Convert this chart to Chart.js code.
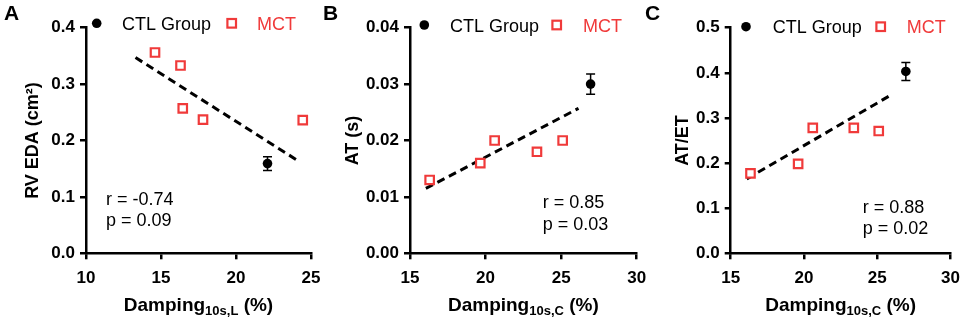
<!DOCTYPE html>
<html>
<head>
<meta charset="utf-8">
<script src="https://cdn.jsdelivr.net/npm/chart.js@4.4.1/dist/chart.umd.min.js"></script>
<style>
  html, body { margin: 0; padding: 0; background: #fff; }
  #wrap { position: relative; width: 969px; height: 318px; }
  canvas { position: absolute; left: 0; top: 0; }
</style>
</head>
<body>
<div id="wrap">
  <canvas id="chartA" width="969" height="318"></canvas>
  <canvas id="chartB" width="969" height="318"></canvas>
  <canvas id="chartC" width="969" height="318"></canvas>
</div>
<script>
// shared
const legendLabels = ['CTL Group', 'MCT'];

// panel A - RV EDA vs damping (L)
const mctDampA = [14.6, 16.3, 16.45, 17.8, 24.45];
const mctValA = [0.356, 0.333, 0.257, 0.237, 0.236];
const ctlDampA = [22.1];
const ctlValA = [0.159];
const ctlErrA = [0.012];
const trendDampA = [13.3, 24.2];
const trendValA = [0.347, 0.163];
const xTicksA = [10, 15, 20, 25];
const yTicksA = [0, 0.1, 0.2, 0.3, 0.4];
const yTickLabelsA = ['0.0', '0.1', '0.2', '0.3', '0.4'];
const statsA = ['r = -0.74', 'p = 0.09'];

// panel B - AT vs damping (C)
const mctDampB = [16.3, 19.65, 20.6, 23.4, 25.1];
const mctValB = [0.013, 0.016, 0.020, 0.018, 0.020];
const ctlDampB = [26.95];
const ctlValB = [0.030];
const ctlErrB = [0.0018];
const trendDampB = [16.05, 26.15];
const trendValB = [0.0115, 0.0257];
const xTicksB = [15, 20, 25, 30];
const yTicksB = [0, 0.01, 0.02, 0.03, 0.04];
const yTickLabelsB = ['0.00', '0.01', '0.02', '0.03', '0.04'];
const statsB = ['r = 0.85', 'p = 0.03'];

// panel C - AT/ET vs damping (C)
const mctDampC = [16.35, 19.6, 20.6, 23.4, 25.1];
const mctValC = [0.177, 0.198, 0.278, 0.278, 0.271];
const ctlDampC = [26.95];
const ctlValC = [0.403];
const ctlErrC = [0.02];
const trendDampC = [16.1, 26.05];
const trendValC = [0.165, 0.353];
const xTicksC = [15, 20, 25, 30];
const yTicksC = [0, 0.1, 0.2, 0.3, 0.4, 0.5];
const yTickLabelsC = ['0.0', '0.1', '0.2', '0.3', '0.4', '0.5'];
const statsC = ['r = 0.88', 'p = 0.02'];

const FONT = "'Liberation Sans', Arial, Helvetica, sans-serif";
const RED = 'rgb(240, 58, 58)';
const Y_AXIS_W = 60;
const X_AXIS_H = 40;

const zip = (xs, ys) => xs.map((x, i) => ({ x: x, y: ys[i] }));

const decor = {
    id: 'decor',
    afterDatasetsDraw(chart, args, o) {
        const ctx = chart.ctx;
        const xs = chart.scales.x, ys = chart.scales.y;
        // error bars on the CTL point
        ctx.save();
        ctx.strokeStyle = '#000';
        ctx.lineWidth = 1.5;
        o.ctlX.forEach((v, i) => {
            const px = xs.getPixelForValue(v);
            const top = ys.getPixelForValue(o.ctlY[i] + o.ctlErr[i]);
            const bot = ys.getPixelForValue(o.ctlY[i] - o.ctlErr[i]);
            ctx.beginPath();
            ctx.moveTo(px, top); ctx.lineTo(px, bot);
            ctx.moveTo(px - 4.5, top); ctx.lineTo(px + 4.5, top);
            ctx.moveTo(px - 4.5, bot); ctx.lineTo(px + 4.5, bot);
            ctx.stroke();
        });
        ctx.restore();
    },
    afterDraw(chart, args, o) {
        const ctx = chart.ctx;
        const area = chart.chartArea;
        ctx.save();
        ctx.fillStyle = '#000';
        ctx.textBaseline = 'alphabetic';

        // panel letter
        ctx.font = 'bold 21px ' + FONT;
        ctx.textAlign = 'left';
        ctx.fillText(o.letter, o.letterX, 20);

        // y title
        ctx.save();
        ctx.translate(o.yTitleX, (area.top + area.bottom) / 2);
        ctx.rotate(-Math.PI / 2);
        ctx.font = 'bold 18px ' + FONT;
        ctx.textAlign = 'center';
        ctx.textBaseline = 'middle';
        ctx.fillText(o.yTitle, 0, 0);
        ctx.restore();

        // x title with subscript
        const main = 'bold 19px ' + FONT, sub = 'bold 13px ' + FONT;
        ctx.font = main;
        const w1 = ctx.measureText('Damping').width;
        const w3 = ctx.measureText(' (%)').width;
        ctx.font = sub;
        const w2 = ctx.measureText(o.xSub).width;
        let x0 = (area.left + area.right) / 2 - (w1 + w2 + w3) / 2;
        ctx.textAlign = 'left';
        ctx.font = main;
        ctx.fillText('Damping', x0, 310.5);
        ctx.font = sub;
        ctx.fillText(o.xSub, x0 + w1, 315);
        ctx.font = main;
        ctx.fillText(' (%)', x0 + w1 + w2, 310.5);

        // legend
        const lg = o.legend;
        ctx.beginPath();
        ctx.arc(lg.dotX, lg.y, 4.8, 0, Math.PI * 2);
        ctx.fill();
        ctx.font = '18px ' + FONT;
        ctx.fillText(legendLabels[0], lg.textX, lg.y + 6.5);
        ctx.strokeStyle = RED;
        ctx.lineWidth = 2.2;
        ctx.fillStyle = '#fff';
        ctx.fillRect(lg.sqX - 4.3, lg.y - 4.3, 8.6, 8.6);
        ctx.strokeRect(lg.sqX - 4.3, lg.y - 4.3, 8.6, 8.6);
        ctx.fillStyle = RED;
        ctx.fillText(legendLabels[1], lg.mctX, lg.y + 6.5);

        // stats
        ctx.fillStyle = '#000';
        ctx.font = '18px ' + FONT;
        o.stats.forEach((s, i) => ctx.fillText(s, o.statsX, o.statsY[i]));
        ctx.restore();
    }
};

const createPanel = (id, p) => {
    const ctx = document.getElementById(id).getContext('2d');
    new Chart(ctx, {
        type: 'scatter',
        data: {
            datasets: [{
                type: 'line',
                data: zip(p.trendX, p.trendY),
                borderColor: '#000',
                borderWidth: 3,
                borderDash: [8, 5],
                pointRadius: 0,
                fill: false,
                order: 3
            }, {
                label: legendLabels[1],
                data: zip(p.mctX, p.mctY),
                pointStyle: 'rect',
                pointRadius: 6,
                pointBorderWidth: 2.2,
                pointBorderColor: RED,
                pointBackgroundColor: '#fff',
                order: 2
            }, {
                label: legendLabels[0],
                data: zip(p.ctlX, p.ctlY),
                pointStyle: 'circle',
                pointRadius: 4.8,
                pointBorderWidth: 0,
                pointBackgroundColor: '#000',
                order: 1
            }]
        },
        options: {
            responsive: false,
            animation: false,
            devicePixelRatio: 1,
            events: [],
            layout: {
                padding: {
                    left: p.axisX - Y_AXIS_W,
                    right: 969 - p.rightX,
                    top: 27.7,
                    bottom: 318 - 253.3 - X_AXIS_H
                }
            },
            scales: {
                x: {
                    type: 'linear',
                    min: p.xTicks[0],
                    max: p.xTicks[p.xTicks.length - 1],
                    afterBuildTicks: s => { s.ticks = p.xTicks.map(v => ({ value: v })); },
                    afterFit: s => { s.height = X_AXIS_H; },
                    border: { color: '#000', width: 2.5 },
                    grid: { drawOnChartArea: false, drawTicks: true, tickLength: 6, color: '#000', lineWidth: 2.5 },
                    ticks: { color: '#000', padding: 9, font: { family: FONT, size: 17, weight: 'bold' } }
                },
                y: {
                    min: p.yTicks[0],
                    max: p.yTicks[p.yTicks.length - 1],
                    afterBuildTicks: s => { s.ticks = p.yTicks.map(v => ({ value: v })); },
                    afterFit: s => { s.width = Y_AXIS_W; },
                    border: { color: '#000', width: 2.5 },
                    grid: { drawOnChartArea: false, drawTicks: true, tickLength: 6, color: '#000', lineWidth: 2.5 },
                    ticks: {
                        color: '#000', padding: 5,
                        font: { family: FONT, size: 17, weight: 'bold' },
                        callback: (v, i) => p.yLabels[i]
                    }
                }
            },
            plugins: {
                legend: { display: false },
                tooltip: { enabled: false },
                decor: {
                    letter: p.letter, letterX: p.letterX,
                    yTitle: p.yTitle, yTitleX: p.yTitleX, xSub: p.xSub,
                    ctlX: p.ctlX, ctlY: p.ctlY, ctlErr: p.ctlErr,
                    legend: p.legend,
                    stats: p.stats, statsX: p.statsX, statsY: p.statsY
                }
            }
        },
        plugins: [decor]
    });
};

window.onload = () => {
    createPanel('chartA', {
        mctX: mctDampA, mctY: mctValA, ctlX: ctlDampA, ctlY: ctlValA, ctlErr: ctlErrA,
        trendX: trendDampA, trendY: trendValA,
        xTicks: xTicksA, yTicks: yTicksA, yLabels: yTickLabelsA, stats: statsA,
        axisX: 86, rightX: 311, letter: 'A', letterX: 4,
        yTitle: 'RV EDA (cm²)', yTitleX: 33.5, xSub: '10s,L',
        legend: { dotX: 96.7, textX: 122, sqX: 231.7, mctX: 257, y: 23.3 },
        statsX: 106, statsY: [205, 225.5]
    });
    createPanel('chartB', {
        mctX: mctDampB, mctY: mctValB, ctlX: ctlDampB, ctlY: ctlValB, ctlErr: ctlErrB,
        trendX: trendDampB, trendY: trendValB,
        xTicks: xTicksB, yTicks: yTicksB, yLabels: yTickLabelsB, stats: statsB,
        axisX: 410, rightX: 636.7, letter: 'B', letterX: 323,
        yTitle: 'AT (s)', yTitleX: 353, xSub: '10s,C',
        legend: { dotX: 424.3, textX: 450, sqX: 556.7, mctX: 583, y: 25 },
        statsX: 542.7, statsY: [208.3, 230]
    });
    createPanel('chartC', {
        mctX: mctDampC, mctY: mctValC, ctlX: ctlDampC, ctlY: ctlValC, ctlErr: ctlErrC,
        trendX: trendDampC, trendY: trendValC,
        xTicks: xTicksC, yTicks: yTicksC, yLabels: yTickLabelsC, stats: statsC,
        axisX: 730.7, rightX: 958.3, letter: 'C', letterX: 645,
        yTitle: 'AT/ET', yTitleX: 683, xSub: '10s,C',
        legend: { dotX: 746, textX: 772.7, sqX: 880.7, mctX: 906.7, y: 26.7 },
        statsX: 862.7, statsY: [213.3, 234.3]
    });
};
</script>
</body>
</html>
